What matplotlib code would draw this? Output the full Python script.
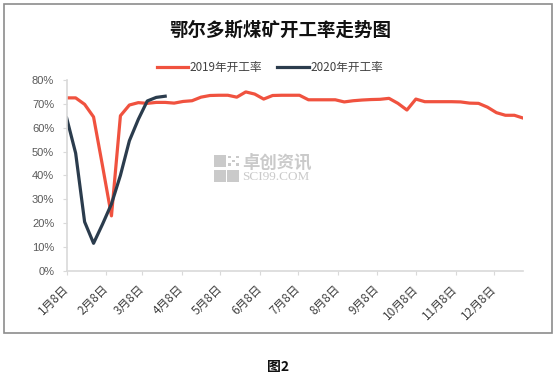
import matplotlib
matplotlib.use("Agg")
import matplotlib.pyplot as plt
import pandas as pd
from matplotlib.patches import Rectangle
from matplotlib.lines import Line2D

plt.rcParams['font.family'] = ['Noto Sans CJK SC', 'DejaVu Sans']

title = "鄂尔多斯煤矿开工率走势图"
series_names = ["2019年开工率", "2020年开工率"]
start_date = "2019-01-08"
rate_2019 = [72.5, 72.5, 69.8, 64.5, 44.0, 23.0, 65.0, 69.5, 70.5, 70.2,
             70.6, 70.6, 70.3, 71.0, 71.3, 72.8, 73.5, 73.6, 73.6, 72.8,
             75.0, 74.1, 72.0, 73.5, 73.6, 73.6, 73.6, 71.7, 71.7, 71.7,
             71.7, 70.8, 71.3, 71.6, 71.8, 71.9, 72.3, 70.2, 67.4, 72.0,
             70.9, 70.9, 70.9, 70.9, 70.8, 70.3, 70.2, 68.6, 66.3, 65.2,
             65.2, 64.0]
rate_2020 = [64.0, 49.3, 20.5, 11.5, 19.5, 28.0, 40.0, 54.5, 63.5, 71.2,
             72.7, 73.2]
tick_dates = ["2019-%02d-08" % m for m in range(1, 13)]
tick_labels = ["%d月8日" % m for m in range(1, 13)]
y_ticks = [0, 10, 20, 30, 40, 50, 60, 70, 80]
y_labels = ["%d%%" % v for v in y_ticks]

c19 = "#F0523F"
c20 = "#2B3C4D"
wm = "#CACACA"

W, H = 557, 379
fig = plt.figure(figsize=(W / 100, H / 100), dpi=100)
fig.patch.set_facecolor("white")

def fx(px):
    return px / W

def fy(py):
    return 1 - py / H

# outer frame
fig.add_artist(Rectangle((fx(4), fy(333)), (552 - 4) / W, (333 - 4) / H,
                         transform=fig.transFigure, fill=False,
                         edgecolor="#8C8C8C", linewidth=1.2))

# watermark logo (2x2 squares, top-right dotted)
for (x0, y0, dotted) in [(214, 155, False), (227, 155, True), (214, 170, False), (227, 170, False)]:
    if dotted:
        for i in range(3):
            for j in range(3):
                if (i + j) % 2 == 0:
                    fig.add_artist(Rectangle((fx(x0 + 1 + i * 4), fy(y0 + 3 + j * 4)), 2.5 / W, 2.5 / H,
                                             transform=fig.transFigure, color=wm, lw=0, zorder=0))
    else:
        fig.add_artist(Rectangle((fx(x0), fy(y0 + 12)), 12 / W, 12 / H,
                                 transform=fig.transFigure, color=wm, lw=0, zorder=0))
fig.text(fx(242), fy(163), "卓创资讯", fontsize=12.5, color=wm,
         ha="left", va="center", fontweight="bold", zorder=0)
fig.text(fx(242), fy(177), "SCI99.COM", fontsize=9.5, color=wm,
         ha="left", va="center", family=["Liberation Serif", "DejaVu Serif"], zorder=0)

ax = fig.add_axes([fx(66.7), fy(270.7), (523.3 - 66.7) / W, (270.7 - 80) / H])
ax.patch.set_alpha(0)

d19 = pd.date_range(start_date, periods=len(rate_2019), freq="7D")
d20 = pd.date_range(start_date, periods=len(rate_2020), freq="7D")

ax.plot(d19, rate_2019, color=c19, linewidth=2.3, solid_joinstyle="round")
ax.plot(d20, rate_2020, color=c20, linewidth=2.3, solid_joinstyle="round")

ax.set_xlim(d19[0], d19[-1])
ax.set_ylim(0, 80)
ax.set_yticks(y_ticks)
ax.set_yticklabels(y_labels, fontsize=8, color="#595959", family=["Liberation Sans", "DejaVu Sans"])
ax.set_xticks(pd.to_datetime(tick_dates))
ax.set_xticklabels(tick_labels, rotation=45, ha="right", va="center", rotation_mode="anchor",
                   fontsize=8.5, color="#404040")

for s in ["top", "right"]:
    ax.spines[s].set_visible(False)
for s in ["left", "bottom"]:
    ax.spines[s].set_color("#D9D9D9")
    ax.spines[s].set_linewidth(1.2)
ax.tick_params(axis="y", length=3, color="#D9D9D9", pad=6)
ax.tick_params(axis="x", length=3, color="#D9D9D9", pad=9)

fig.text(fx(280), fy(30), title, fontsize=13.3, fontweight="bold",
         ha="center", va="center", color="#111111")

handles = [Line2D([], [], color=c19, linewidth=2.3), Line2D([], [], color=c20, linewidth=2.3)]
fig.legend(handles, series_names, loc="center", bbox_to_anchor=(fx(270), fy(68)),
           ncol=2, frameon=False, fontsize=8.4, handlelength=2.7, handletextpad=0.15,
           columnspacing=1.3, labelcolor="#404040")

fig.text(fx(278), fy(367), "图2", fontsize=10, fontweight="bold",
         ha="center", va="center", color="#111111")

fig.savefig("out.png", dpi=100, facecolor="white")
